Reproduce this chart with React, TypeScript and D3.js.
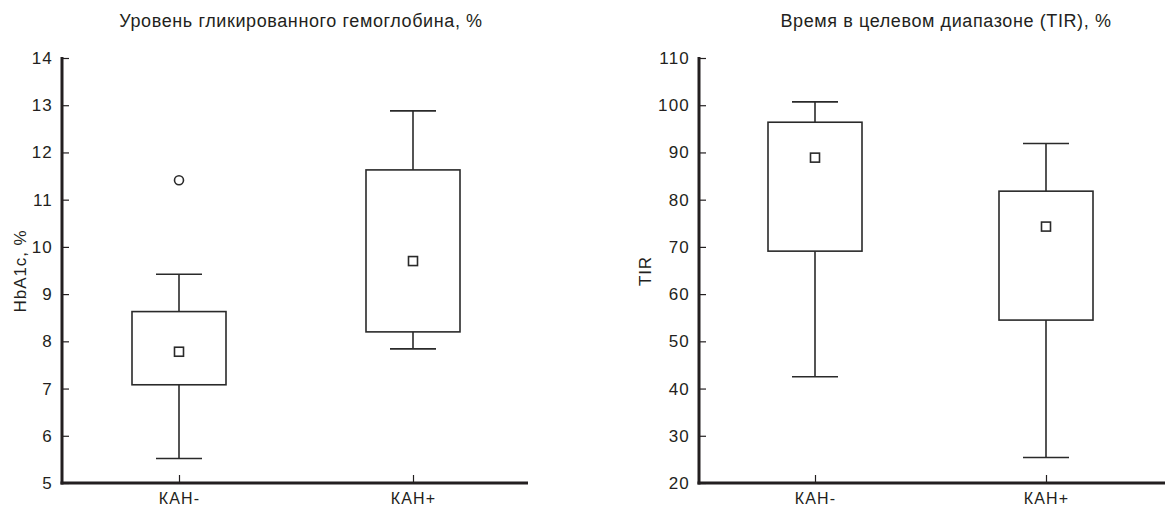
import React, { useRef, useEffect } from "react";
import * as d3 from "d3";

const groups = ["КАН-", "КАН+"];

// HbA1c, %
const hbaLow = [5.52, 7.84];
const hbaQ1 = [7.08, 8.2];
const hbaMean = [7.78, 9.7];
const hbaQ3 = [8.63, 11.63];
const hbaHigh = [9.42, 12.88];
const hbaOutliers = [[11.41], []];
const hbaTicks = [5, 6, 7, 8, 9, 10, 11, 12, 13, 14];

// TIR, %
const tirLow = [42.5, 25.4];
const tirQ1 = [69.1, 54.5];
const tirMean = [88.9, 74.3];
const tirQ3 = [96.4, 81.8];
const tirHigh = [100.7, 91.9];
const tirOutliers = [[], []];
const tirTicks = [20, 30, 40, 50, 60, 70, 80, 90, 100, 110];

const FONT = "'Liberation Sans', Arial, sans-serif";
const INK = "#231f20";

const drawPanel = (svg, opts) => {
    const { left, right, pointRange, domain, ticks, title, titleX, yLabel, yLabelX, data } = opts;
    const top = 58;
    const bottom = 483;

    const g = svg.append("g");

    const x = d3.scalePoint().domain(groups).range(pointRange);
    const y = d3.scaleLinear().domain(domain).range([bottom, top]);

    // title
    g.append("text")
        .attr("x", titleX)
        .attr("y", 27)
        .attr("text-anchor", "middle")
        .style("font-family", FONT)
        .style("font-size", "18px")
        .style("letter-spacing", "0.6px")
        .attr("fill", INK)
        .text(title);

    // y axis label
    g.append("text")
        .attr("transform", `translate(${yLabelX}, 271) rotate(-90)`)
        .attr("text-anchor", "middle")
        .style("font-family", FONT)
        .style("font-size", "17px")
        .style("letter-spacing", "0.9px")
        .attr("fill", INK)
        .text(yLabel);

    const yAxis = g
        .append("g")
        .attr("transform", `translate(${left}, 0)`)
        .call(d3.axisLeft(y).tickValues(ticks).tickSize(-7).tickPadding(9));
    yAxis.select(".domain").remove();
    yAxis.selectAll("line").attr("stroke", INK).attr("stroke-width", 1.2);
    yAxis.selectAll("text")
        .style("font-family", FONT)
        .style("font-size", "17px")
        .style("letter-spacing", "1.2px")
        .attr("fill", INK);

    const xAxis = g
        .append("g")
        .attr("transform", `translate(0, ${bottom})`)
        .call(d3.axisBottom(x).tickSize(-8).tickPadding(10));
    xAxis.select(".domain").remove();
    xAxis.selectAll("line").attr("stroke", INK).attr("stroke-width", 1.2);
    xAxis.selectAll("text")
        .style("font-family", FONT)
        .style("font-size", "16px")
        .style("letter-spacing", "1.2px")
        .attr("fill", INK);

    // thick axis lines
    g.append("line")
        .attr("x1", left).attr("x2", left)
        .attr("y1", top - 1).attr("y2", bottom + 1.5)
        .attr("stroke", INK).attr("stroke-width", 3);
    g.append("line")
        .attr("x1", left - 1.5).attr("x2", right)
        .attr("y1", bottom).attr("y2", bottom)
        .attr("stroke", INK).attr("stroke-width", 3);

    const boxW = 94;
    const capW = 46;
    const rows = groups.map((grp, i) => ({
        grp,
        low: data.low[i],
        q1: data.q1[i],
        mean: data.mean[i],
        q3: data.q3[i],
        high: data.high[i],
        out: data.out[i],
    }));

    const box = g.selectAll(".box").data(rows).enter().append("g").attr("class", "box");
    const stroke = (sel) => sel.attr("stroke", "#2a2a2a").attr("stroke-width", 1.6).attr("fill", "none");

    // whiskers
    box.append("line")
        .attr("x1", (d) => x(d.grp)).attr("x2", (d) => x(d.grp))
        .attr("y1", (d) => y(d.q3)).attr("y2", (d) => y(d.high))
        .call(stroke);
    box.append("line")
        .attr("x1", (d) => x(d.grp)).attr("x2", (d) => x(d.grp))
        .attr("y1", (d) => y(d.q1)).attr("y2", (d) => y(d.low))
        .call(stroke);
    box.append("line")
        .attr("x1", (d) => x(d.grp) - capW / 2).attr("x2", (d) => x(d.grp) + capW / 2)
        .attr("y1", (d) => y(d.high)).attr("y2", (d) => y(d.high))
        .call(stroke);
    box.append("line")
        .attr("x1", (d) => x(d.grp) - capW / 2).attr("x2", (d) => x(d.grp) + capW / 2)
        .attr("y1", (d) => y(d.low)).attr("y2", (d) => y(d.low))
        .call(stroke);
    box.append("rect")
        .attr("x", (d) => x(d.grp) - boxW / 2)
        .attr("y", (d) => y(d.q3))
        .attr("width", boxW)
        .attr("height", (d) => y(d.q1) - y(d.q3))
        .call(stroke);
    // mean marker
    box.append("rect")
        .attr("x", (d) => x(d.grp) - 4.5)
        .attr("y", (d) => y(d.mean) - 4.5)
        .attr("width", 9)
        .attr("height", 9)
        .call(stroke);
    box.selectAll(".out")
        .data((d) => d.out.map((v) => ({ grp: d.grp, v })))
        .enter()
        .append("circle")
        .attr("cx", (d) => x(d.grp))
        .attr("cy", (d) => y(d.v))
        .attr("r", 4.5)
        .call(stroke);
};

const App = () => {
    const svgRef = useRef();

    useEffect(() => {
        const svg = d3.select(svgRef.current);
        svg.selectAll("*").remove();

        drawPanel(svg, {
            left: 62,
            right: 528,
            pointRange: [179, 413],
            domain: [5, 14],
            ticks: hbaTicks,
            title: "Уровень гликированного гемоглобина, %",
            titleX: 301,
            yLabel: "HbA1c, %",
            yLabelX: 26,
            data: { low: hbaLow, q1: hbaQ1, mean: hbaMean, q3: hbaQ3, high: hbaHigh, out: hbaOutliers },
        });

        drawPanel(svg, {
            left: 699,
            right: 1165,
            pointRange: [815, 1046],
            domain: [20, 110],
            ticks: tirTicks,
            title: "Время в целевом диапазоне (TIR), %",
            titleX: 946,
            yLabel: "TIR",
            yLabelX: 651,
            data: { low: tirLow, q1: tirQ1, mean: tirMean, q3: tirQ3, high: tirHigh, out: tirOutliers },
        });
    }, []);

    return (
        <div style={{ position: "absolute", left: 0, top: 0 }}>
            <svg ref={svgRef} width={1165} height={508} style={{ display: "block", background: "#fff" }}></svg>
        </div>
    );
};

export default App;
